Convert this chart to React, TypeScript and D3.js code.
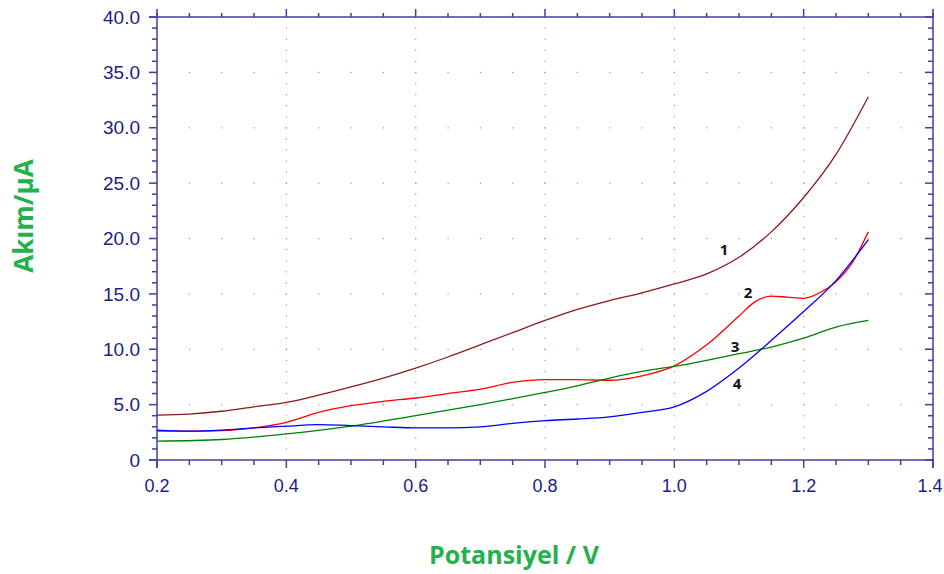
import React, { useEffect, useRef } from 'react';
import * as d3 from 'd3';

// potential (V) sampled for each curve
const potential1 = [0.2, 0.25, 0.3, 0.35, 0.4, 0.45, 0.5, 0.55, 0.6, 0.65, 0.7, 0.75, 0.8, 0.85, 0.9, 0.95, 1.0, 1.05, 1.1, 1.15, 1.2, 1.25, 1.3];
const current1 = [4.05, 4.15, 4.4, 4.8, 5.2, 5.85, 6.6, 7.4, 8.3, 9.3, 10.4, 11.5, 12.6, 13.6, 14.4, 15.1, 15.9, 16.8, 18.3, 20.6, 23.7, 27.6, 32.8];

const potential2 = [0.2, 0.25, 0.3, 0.35, 0.4, 0.45, 0.5, 0.55, 0.6, 0.65, 0.7, 0.75, 0.8, 0.85, 0.9, 0.95, 1.0, 1.05, 1.1, 1.125, 1.15, 1.175, 1.2, 1.225, 1.25, 1.275, 1.3];
const current2 = [2.6, 2.6, 2.65, 2.9, 3.4, 4.3, 4.9, 5.3, 5.6, 6.0, 6.4, 7.0, 7.25, 7.25, 7.2, 7.6, 8.5, 10.4, 13.0, 14.3, 14.8, 14.7, 14.6, 15.1, 16.1, 17.8, 20.6];

const potential3 = [0.2, 0.3, 0.4, 0.5, 0.6, 0.7, 0.8, 0.85, 0.9, 0.95, 1.0, 1.05, 1.1, 1.15, 1.2, 1.25, 1.3];
const current3 = [1.7, 1.85, 2.35, 3.05, 4.0, 5.0, 6.1, 6.7, 7.4, 8.0, 8.45, 9.0, 9.6, 10.2, 11.0, 12.0, 12.6];

const potential4 = [0.2, 0.25, 0.3, 0.35, 0.4, 0.45, 0.5, 0.55, 0.6, 0.65, 0.7, 0.75, 0.8, 0.85, 0.9, 0.95, 1.0, 1.05, 1.1, 1.15, 1.2, 1.25, 1.3];
const current4 = [2.7, 2.6, 2.7, 2.9, 3.05, 3.2, 3.1, 3.0, 2.9, 2.9, 3.0, 3.3, 3.55, 3.7, 3.9, 4.3, 4.8, 6.2, 8.3, 10.8, 13.4, 16.2, 19.9];

const seriesColors = ['#8b1a1a', '#ff0000', '#008000', '#0000ff'];
const curveNames = ['1', '2', '3', '4'];
const labelX = [1.077, 1.114, 1.094, 1.097];
const labelY = [19.0, 15.1, 10.25, 6.9];

const xTicks = [0.2, 0.4, 0.6, 0.8, 1.0, 1.2, 1.4];
const yTicks = [0, 5, 10, 15, 20, 25, 30, 35, 40];

const App: React.FC = () => {
  const svgRef = useRef<SVGSVGElement | null>(null);

  useEffect(() => {
    document.body.style.margin = '0';
    const width = 944;
    const height = 574;
    const left = 157, right = 933, top = 17, bottom = 460;

    const x = d3.scaleLinear().domain([0.2, 1.4]).range([left, right]);
    const y = d3.scaleLinear().domain([0, 40]).range([bottom, top]);

    const svg = d3.select(svgRef.current);
    svg.selectAll('*').remove();
    svg.attr('width', width).attr('height', height).style('display', 'block').style('background', '#fff');

    const axisColor = '#3f3fa6';
    const labelColor = '#1c1c86';

    // dotted grid
    const grid = svg.append('g').attr('fill', '#8fa860');
    const xMinor = d3.range(0.25, 1.4, 0.05);
    const yMinor = d3.range(1, 40, 1);
    yTicks.slice(1, -1).forEach((v) => {
      xMinor.forEach((m) => {
        grid.append('rect').attr('x', x(m) - 0.5).attr('y', y(v) - 0.5).attr('width', 1.2).attr('height', 1.2);
      });
    });
    xTicks.slice(1, -1).forEach((v) => {
      yMinor.forEach((m) => {
        grid.append('rect').attr('x', x(v) - 0.5).attr('y', y(m) - 0.5).attr('width', 1.2).attr('height', 1.2);
      });
    });

    // frame
    const ax = svg.append('g').attr('stroke', axisColor).attr('stroke-width', 1.5).attr('fill', 'none');
    ax.append('line').attr('x1', left - 8).attr('x2', right + 1).attr('y1', bottom).attr('y2', bottom);
    ax.append('line').attr('x1', left - 8).attr('x2', right + 1).attr('y1', top).attr('y2', top);
    ax.append('line').attr('x1', left).attr('x2', left).attr('y1', top - 4).attr('y2', bottom + 8);
    ax.append('line').attr('x1', right).attr('x2', right).attr('y1', top - 4).attr('y2', bottom + 8);

    const xMinorAll = d3.range(0.25, 1.4, 0.05).filter((v) => Math.abs(Math.round(v * 5) - v * 5) > 0.01);
    xMinorAll.forEach((v) => {
      ax.append('line').attr('x1', x(v)).attr('x2', x(v)).attr('y1', bottom).attr('y2', bottom + 5);
      ax.append('line').attr('x1', x(v)).attr('x2', x(v)).attr('y1', top).attr('y2', top - 4);
    });
    xTicks.forEach((v) => {
      ax.append('line').attr('x1', x(v)).attr('x2', x(v)).attr('y1', bottom).attr('y2', bottom + 8);
      ax.append('line').attr('x1', x(v)).attr('x2', x(v)).attr('y1', top).attr('y2', top - 8);
    });
    yMinor.filter((v) => v % 5 !== 0).forEach((v) => {
      ax.append('line').attr('x1', left).attr('x2', left - 5).attr('y1', y(v)).attr('y2', y(v));
      ax.append('line').attr('x1', right).attr('x2', right - 5).attr('y1', y(v)).attr('y2', y(v));
    });
    yTicks.forEach((v) => {
      ax.append('line').attr('x1', left).attr('x2', left - 8).attr('y1', y(v)).attr('y2', y(v));
      ax.append('line').attr('x1', right).attr('x2', right - 8).attr('y1', y(v)).attr('y2', y(v));
    });

    // tick labels
    const tl = svg.append('g').attr('fill', labelColor).style('font-family', '"Liberation Sans", Arial, sans-serif');
    yTicks.forEach((v) => {
      tl.append('text').attr('x', left - 17).attr('y', y(v)).attr('dy', '0.35em').attr('text-anchor', 'end')
        .style('font-size', '19px')
        .text(v === 0 ? '0' : v.toFixed(1));
    });
    xTicks.forEach((v) => {
      tl.append('text').attr('x', Math.min(x(v), 930)).attr('y', bottom + 32).attr('text-anchor', 'middle')
        .style('font-size', '18px')
        .text(v.toFixed(1));
    });

    // curves
    const series = [
      { xs: potential1, ys: current1 },
      { xs: potential2, ys: current2 },
      { xs: potential3, ys: current3 },
      { xs: potential4, ys: current4 },
    ];
    const line = d3.line<[number, number]>().x((d) => x(d[0])).y((d) => y(d[1])).curve(d3.curveMonotoneX);
    series.forEach((s, i) => {
      const pts = s.xs.map((v, j) => [v, s.ys[j]] as [number, number]);
      svg.append('path').attr('d', line(pts) as string).attr('fill', 'none')
        .attr('stroke', seriesColors[i]).attr('stroke-width', 1.3);
    });

    // curve labels
    curveNames.forEach((n, i) => {
      svg.append('text').attr('x', x(labelX[i])).attr('y', y(labelY[i])).attr('dy', '0.35em')
        .attr('text-anchor', 'middle').attr('fill', '#111')
        .style('font-family', '"Open Sans", sans-serif').style('font-weight', 700).style('font-size', '15px')
        .text(n);
    });

    // axis titles
    const titleColor = '#22b14c';
    svg.append('text').attr('x', 514).attr('y', 564).attr('text-anchor', 'middle').attr('fill', titleColor)
      .style('font-family', '"Open Sans", sans-serif').style('font-weight', 700).style('font-size', '25px')
      .text('Potansiyel / V');
    svg.append('text').attr('transform', 'translate(33,216) rotate(-90)').attr('text-anchor', 'middle').attr('fill', titleColor)
      .style('font-family', '"Open Sans", sans-serif').style('font-weight', 700).style('font-size', '26px')
      .text('Akım/μA');
  }, []);

  return <svg ref={svgRef} />;
};

export default App;
